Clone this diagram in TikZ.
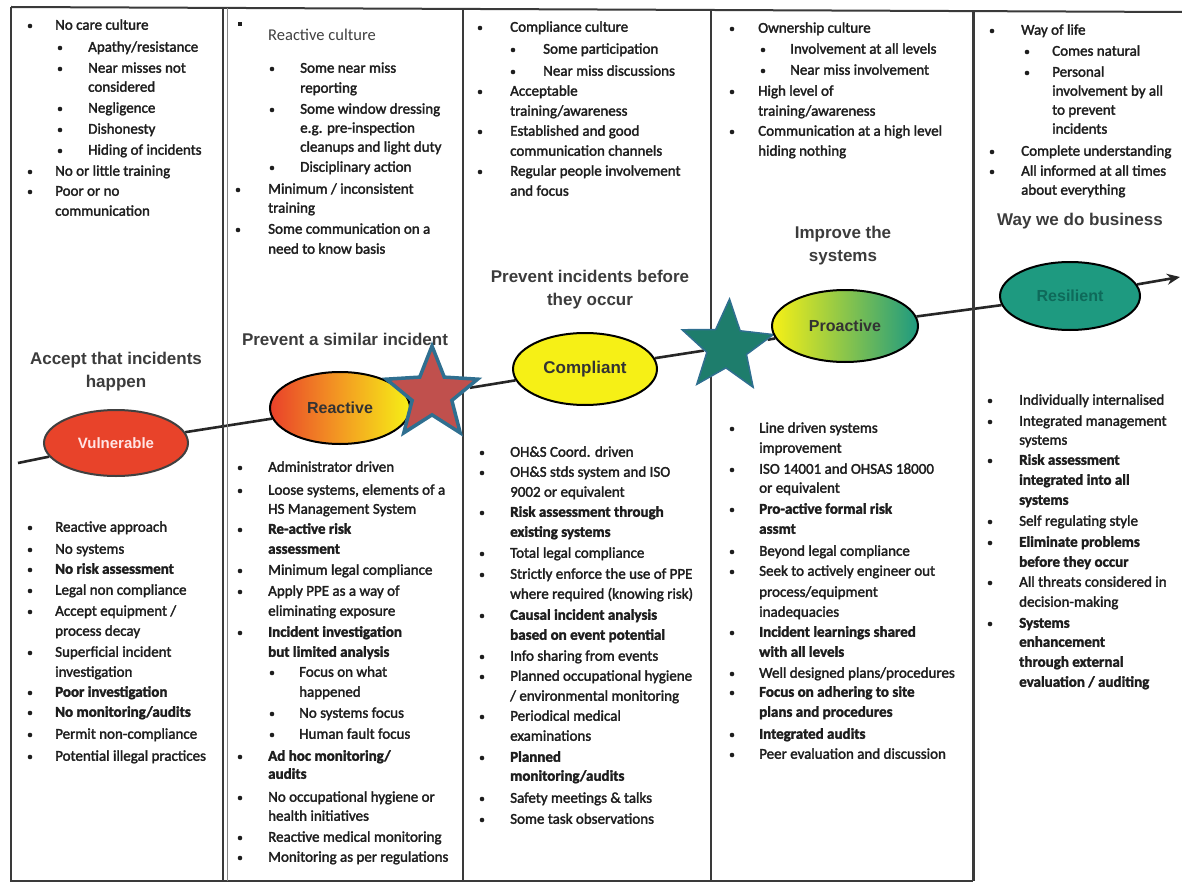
\documentclass[tikz,border=0pt]{standalone}
\usepackage{fontspec}
\setmainfont{Carlito}[FakeBold=2]
\newfontfamily\lightfont{Carlito}
\newfontfamily\hfont{Liberation Sans}
\usetikzlibrary{shapes.geometric,arrows.meta}
\pgfdeclarelayer{back}
\pgfdeclarelayer{bg}
\pgfsetlayers{back,bg,main}
\definecolor{ink}{HTML}{1E1E1E}
\definecolor{headc}{HTML}{3C3C3C}
\definecolor{framec}{HTML}{3A3A3A}
\definecolor{vulred}{HTML}{E8432A}
\definecolor{rred}{HTML}{E9412A}
\definecolor{rorange}{HTML}{F39A22}
\definecolor{yel}{HTML}{F6F016}
\definecolor{teal}{HTML}{1E9A80}
\definecolor{tealdark}{HTML}{0E6A5A}
\definecolor{starred}{HTML}{C0504D}
\definecolor{starblue}{HTML}{2F6F90}
\definecolor{starteal}{HTML}{1E7D6C}
\newcounter{ln}
\newcommand\li[4]{\stepcounter{ln}\fill[ink] (#1,#3) circle (2.3);\node[txt] (l\arabic{ln}) at (#2,#3) {#4};}
\newcommand\lc[3]{\stepcounter{ln}\node[txt] (l\arabic{ln}) at (#1,#2) {#3};}
\begin{document}
\begin{tikzpicture}[x=1pt,y=-1pt,
  txt/.style={font=\fontsize{15}{18}\selectfont, text=ink, anchor=west, inner sep=0pt, text height=10.5pt, text depth=3pt},
  hd/.style={font=\hfont\bfseries\fontsize{17}{23}\selectfont, text=headc, inner sep=0pt, align=center},
  stage/.style={ellipse, draw=black, line width=2pt, inner sep=0pt, font=\hfont\bfseries\fontsize{16}{19}\selectfont},
  bigstar/.style={star, star points=5, star point ratio=2.3, inner sep=0pt, minimum size=96},
  frame/.style={draw=framec, line width=2pt},
  conn/.style={draw=black!85, line width=2.6pt}]
\useasboundingbox (0,0) rectangle (1182,885);
\begin{pgfonlayer}{back}
\fill[white] (0,0) rectangle (1182,885);
\end{pgfonlayer}

% frame
\draw[frame] (11,7) -- (1182,12);
\draw[frame] (11,7) -- (11,881) -- (973,881);
\draw[frame] (223,8) -- (223,881);
\draw[draw=framec!60, line width=0.8pt] (227,8) -- (227,881);
\draw[frame] (463,9) -- (463,881);
\draw[frame] (711,10) -- (711,881);
\draw[frame, line width=3pt] (973,11) -- (973,881);

% column 1 top
\li{30}{55}{26}{No care culture}
\li{60}{88}{48}{Apathy/resistance}
\li{60}{88}{69}{Near misses not}
\lc{88}{88}{considered}
\li{60}{88}{109}{Negligence}
\li{60}{88}{130}{Dishonesty}
\li{60}{88}{151}{Hiding of incidents}
\li{30}{55}{172}{No or little training}
\li{30}{55}{192}{Poor or no}
\lc{55}{212}{communication}

% column 1 bottom
\li{30}{55}{528}{Reactive approach}
\li{30}{55}{550}{No systems}
\li{30}{55}{570}{\bfseries No risk assessment}
\li{30}{55}{591}{Legal non compliance}
\li{30}{55}{612}{Accept equipment /}
\lc{55}{632}{process decay}
\li{30}{55}{653}{Superficial incident}
\lc{55}{673}{investigation}
\li{30}{55}{693}{\bfseries Poor investigation}
\li{30}{55}{713}{\bfseries No monitoring/audits}
\li{30}{55}{735}{Permit non-compliance}
\li{30}{55}{757}{Potential illegal practices}

% column 2 top
\fill[ink] (238,22) rectangle (242,26);
\node[txt, font=\lightfont\fontsize{16.5}{19}\selectfont, text=ink!85] (l0) at (268,37) {Reactive culture};
\li{272}{300}{69}{Some near miss}
\lc{300}{89}{reporting}
\li{272}{300}{110}{Some window dressing}
\lc{300}{129}{e.g. pre-inspection}
\lc{300}{148}{cleanups and light duty}
\li{272}{300}{168}{Disciplinary action}
\li{238}{268}{190}{Minimum / inconsistent}
\lc{268}{209}{training}
\li{238}{268}{230}{Some communication on a}
\lc{268}{250}{need to know basis}

% column 2 bottom
\li{240}{268}{468}{Administrator driven}
\li{240}{268}{491}{Loose systems, elements of a}
\lc{268}{510}{HS Management System}
\li{240}{268}{530}{\bfseries Re-active risk}
\lc{268}{550}{\bfseries assessment}
\li{240}{268}{571}{Minimum legal compliance}
\li{240}{268}{592}{Apply PPE as a way of}
\lc{268}{612}{eliminating exposure}
\li{240}{268}{633}{\bfseries Incident investigation}
\lc{268}{653}{\bfseries but limited analysis}
\li{272}{299}{673}{Focus on what}
\lc{299}{693}{happened}
\li{272}{299}{714}{No systems focus}
\li{272}{299}{735}{Human fault focus}
\li{240}{268}{757}{\bfseries Ad hoc monitoring/}
\lc{268}{775}{\bfseries audits}
\li{240}{268}{798}{No occupational hygiene or}
\lc{268}{817}{health initiatives}
\li{240}{268}{838}{Reactive medical monitoring}
\li{240}{268}{858}{Monitoring as per regulations}

% column 3 top
\li{480}{510}{28}{Compliance culture}
\li{513}{543}{50}{Some participation}
\li{513}{543}{72}{Near miss discussions}
\li{480}{510}{92}{Acceptable}
\lc{510}{112}{training/awareness}
\li{480}{510}{132}{Established and good}
\lc{510}{152}{communication channels}
\li{480}{510}{172}{Regular people involvement}
\lc{510}{192}{and focus}

% column 3 bottom
\li{482}{510}{453}{OH\&S Coord. driven}
\li{482}{510}{473}{OH\&S stds system and ISO}
\lc{510}{493}{9002 or equivalent}
\li{482}{510}{513}{\bfseries Risk assessment through}
\lc{510}{533}{\bfseries existing systems}
\li{482}{510}{554}{Total legal compliance}
\li{482}{510}{575}{Strictly enforce the use of PPE}
\lc{510}{595}{where required (knowing risk)}
\li{482}{510}{616}{\bfseries Causal incident analysis}
\lc{510}{636}{\bfseries based on event potential}
\li{482}{510}{657}{Info sharing from events}
\li{482}{510}{677}{Planned occupational hygiene}
\lc{510}{697}{/ environmental monitoring}
\li{482}{510}{717}{Periodical medical}
\lc{510}{737}{examinations}
\li{482}{510}{758}{\bfseries Planned}
\lc{510}{777}{\bfseries monitoring/audits}
\li{482}{510}{799}{Safety meetings \& talks}
\li{482}{510}{820}{Some task observations}

% column 4 top
\li{732}{758}{29}{Ownership culture}
\li{763}{790}{50}{Involvement at all levels}
\li{763}{790}{71}{Near miss involvement}
\li{732}{758}{92}{High level of}
\lc{758}{112}{training/awareness}
\li{732}{758}{132}{Communication at a high level}
\lc{758}{152}{hiding nothing}

% column 4 bottom
\li{732}{759}{429}{Line driven systems}
\lc{759}{449}{improvement}
\li{732}{759}{470}{ISO 14001 and OHSAS 18000}
\lc{759}{489}{or equivalent}
\li{732}{759}{510}{\bfseries Pro-active formal risk}
\lc{759}{530}{\bfseries assmt}
\li{732}{759}{552}{Beyond legal compliance}
\li{732}{759}{572}{Seek to actively engineer out}
\lc{759}{593}{process/equipment}
\lc{759}{613}{inadequacies}
\li{732}{759}{633}{\bfseries Incident learnings shared}
\lc{759}{653}{\bfseries with all levels}
\li{732}{759}{674}{Well designed plans/procedures}
\li{732}{759}{693}{\bfseries Focus on adhering to site}
\lc{759}{713}{\bfseries plans and procedures}
\li{732}{759}{735}{\bfseries Integrated audits}
\li{732}{759}{755}{Peer evaluation and discussion}

% column 5 top
\li{992}{1021}{31}{Way of life}
\li{1027}{1052}{52}{Comes natural}
\li{1027}{1052}{73}{Personal}
\lc{1052}{92}{involvement by all}
\lc{1052}{111}{to prevent}
\lc{1052}{130}{incidents}
\li{992}{1021}{152}{Complete understanding}
\li{992}{1021}{172}{All informed at all times}
\lc{1021}{191}{about everything}

% column 5 bottom
\li{990}{1019}{401}{Individually internalised}
\li{990}{1019}{422}{Integrated management}
\lc{1019}{441}{systems}
\li{990}{1019}{461}{\bfseries Risk assessment}
\lc{1019}{481}{\bfseries integrated into all}
\lc{1019}{501}{\bfseries systems}
\li{990}{1019}{522}{Self regulating style}
\li{990}{1019}{543}{\bfseries Eliminate problems}
\lc{1019}{563}{\bfseries before they occur}
\li{990}{1019}{583}{All threats considered in}
\lc{1019}{603}{decision-making}
\li{990}{1019}{624}{\bfseries Systems}
\lc{1019}{643}{\bfseries enhancement}
\lc{1019}{663}{\bfseries through external}
\lc{1019}{683}{\bfseries evaluation / auditing}

% headings
\node[hd] (h1) at (116,372) {Accept that incidents\\happen};
\node[hd] (h2) at (345,339) {Prevent a similar incident};
\node[hd] (h3) at (590,290) {Prevent incidents before\\they occur};
\node[hd] (h4) at (843,246) {Improve the\\systems};
\node[hd] (h5) at (1080,221) {Way we do business};

% stages
\node[stage, fill=vulred, draw=black!75, minimum width=144, minimum height=66, text=red!10, font=\hfont\bfseries\fontsize{15}{18}\selectfont] (vul) at (116,443) {Vulnerable};
\node[stage, left color=rred, right color=yel, middle color=rorange, minimum width=140, minimum height=72, text=black!80] (rea) at (340,408) {Reactive};
\node[bigstar, fill=starred, draw=starblue, line width=3.5pt] (s1) at (432,394) {};
\node[stage, fill=yel, minimum width=144, minimum height=72, text=black!80, font=\hfont\bfseries\fontsize{17}{20}\selectfont] (com) at (585,369) {Compliant};
\node[bigstar, fill=starteal, draw=starblue, line width=1.5pt, rotate=-3] (s2) at (727,347) {};
\node[stage, left color=yel, right color=teal, minimum width=146, minimum height=72, text=black!80] (pro) at (845,326) {Proactive};
\node[stage, fill=teal, minimum width=140, minimum height=68, text=tealdark] (res) at (1070,296) {Resilient};

\coordinate (start) at (18,463);
\coordinate (end) at (1180,277);

\begin{pgfonlayer}{bg}
\draw[conn] (start) -- (vul);
\draw[conn] (vul) -- (rea);
\draw[conn] (s1) -- (com);
\draw[conn] (com) -- (s2);
\draw[conn] (s2) -- (pro);
\draw[conn] (pro) -- (res);
\draw[conn, -{Stealth[length=13pt,width=11pt,fill=black!55]}] (res) -- (end);
\end{pgfonlayer}
\end{tikzpicture}
\end{document}
